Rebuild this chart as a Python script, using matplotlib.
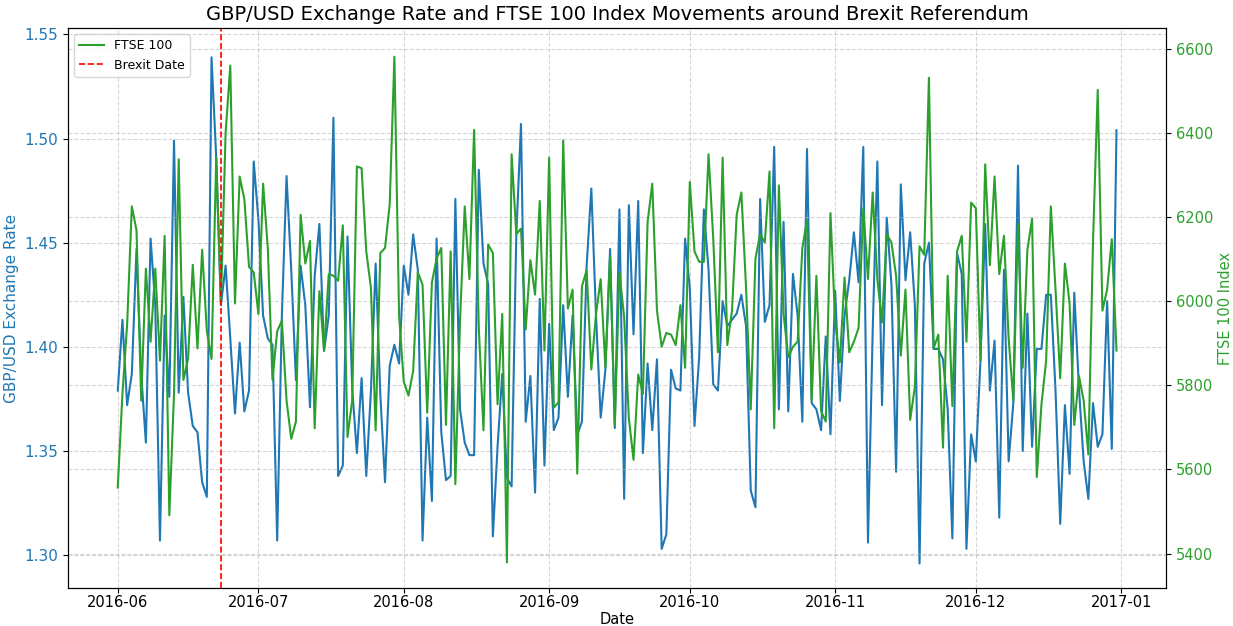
import matplotlib
matplotlib.use("Agg")
import matplotlib.pyplot as plt
import matplotlib.dates as mdates
import numpy as np
import pandas as pd

# daily dates, Jun 1 - Dec 31 2016
dates = pd.date_range("2016-06-01", "2016-12-31", freq="D")
brexit_date = pd.Timestamp("2016-06-23")

gbp_usd = [
    1.379, 1.413, 1.372, 1.387, 1.447, 1.387, 1.354, 1.452, 1.420, 1.307,
    1.415, 1.376, 1.499, 1.378, 1.424, 1.378, 1.362, 1.359, 1.335, 1.328,
    1.539, 1.491, 1.420, 1.439, 1.404, 1.368, 1.402, 1.369, 1.379, 1.489,
    1.461, 1.415, 1.404, 1.401, 1.307, 1.415, 1.482, 1.437,
    1.384, 1.439, 1.420, 1.371, 1.434, 1.459, 1.398, 1.415, 1.510, 1.338,
    1.343, 1.453, 1.380, 1.349, 1.385, 1.338, 1.379, 1.440, 1.377, 1.335,
    1.391, 1.401, 1.392, 1.439, 1.425, 1.454, 1.437, 1.307, 1.366, 1.326,
    1.452, 1.359, 1.336, 1.338, 1.471, 1.370, 1.354, 1.348, 1.348,
    1.485, 1.440, 1.430, 1.309, 1.352, 1.387, 1.337, 1.333, 1.454, 1.507,
    1.364, 1.386, 1.330, 1.423, 1.343, 1.411, 1.360, 1.366, 1.420,
    1.376, 1.415, 1.358, 1.364, 1.439, 1.476, 1.415, 1.366, 1.389, 1.447,
    1.361, 1.466, 1.327, 1.468, 1.406, 1.470, 1.349, 1.392, 1.360,
    1.394, 1.303, 1.310, 1.389, 1.380, 1.379, 1.452, 1.428, 1.362, 1.395,
    1.466, 1.437, 1.382, 1.379, 1.422, 1.410, 1.413, 1.416, 1.425,
    1.410, 1.331, 1.323, 1.471, 1.412, 1.420, 1.496, 1.370, 1.460, 1.369,
    1.435, 1.415, 1.364, 1.495, 1.373, 1.370, 1.360, 1.405, 1.358,
    1.427, 1.374, 1.415, 1.432, 1.455, 1.431, 1.496, 1.306, 1.407, 1.489,
    1.372, 1.462, 1.430, 1.340, 1.478, 1.432, 1.455, 1.420, 1.296,
    1.440, 1.450, 1.399, 1.399, 1.394, 1.370, 1.308, 1.445, 1.435, 1.303,
    1.358, 1.345, 1.394, 1.459, 1.379, 1.403, 1.318, 1.437, 1.345,
    1.373, 1.487, 1.350, 1.416, 1.352, 1.399, 1.399, 1.425, 1.425, 1.379,
    1.315, 1.372, 1.339, 1.426, 1.380, 1.345, 1.327, 1.373, 1.352, 1.358,
    1.422, 1.351, 1.504,
]

ftse_100 = [
    5557, 5780, 5945, 6226, 6169, 5764, 6078, 5904, 6078, 5859,
    6156, 5491, 5780, 6338, 5813, 5863, 6087, 5888, 6123,
    5929, 5863, 6342, 5995, 6400, 6561, 5995, 6297, 6243, 6082,
    6069, 5970, 6280, 6127, 5813, 5929, 5954, 5764, 5673, 5714,
    6206, 6090, 6144, 5698, 6024, 5883, 6065, 6061, 6049, 6181,
    5677, 5764, 6321, 6317, 6119, 6032, 5693, 6115, 6127,
    6231, 6582, 5966, 5809, 5776, 5834, 6069, 6040, 5735, 6045,
    6102, 6127, 5706, 6119, 5565, 5954, 6226, 6053, 6408,
    5937, 5693, 6135, 6115, 5755, 5970, 5379, 6350, 6160, 6173,
    5933, 6098, 6016, 6239, 5883, 6342, 5747, 5760, 6383,
    5983, 6028, 5590, 6036, 6074, 5838, 5970, 6053, 5842, 6107,
    5706, 6069, 5962, 5722, 5623, 5826, 5780, 6189, 6280,
    5978, 5892, 5925, 5921, 5896, 5991, 5842, 6284, 6119, 6094,
    6094, 6350, 6150, 5879, 6342, 5896, 5978, 6206, 6259,
    6032, 5743, 6102, 6160, 6140, 6309, 5698, 6276, 5970, 5867,
    5892, 5904, 6127, 6193, 5764, 6061, 5739, 5714, 6210,
    5954, 5855, 6057, 5879, 5904, 5937, 6222, 6053, 6259, 6053,
    5950, 6160, 6140, 6061, 5871, 6028, 5718, 5797, 6131,
    6111, 6532, 5888, 5921, 5652, 6061, 5751, 6119, 6156, 5904,
    6235, 6222, 5859, 6326, 6086, 6297, 6065, 6156, 5912,
    5764, 6185, 5842, 6123, 6197, 5582, 5755, 5859, 6226, 6028,
    5817, 6090, 5995, 5706, 5822, 5764, 5636, 6144, 6503, 5978,
    6028, 6148, 5883,
]

blue = "tab:blue"
green = "tab:green"

fig, ax1 = plt.subplots(figsize=(12.33, 6.26), dpi=100)

ax1.plot(dates, gbp_usd, color=blue, linewidth=1.5, label="GBP/USD")
ax1.set_xlabel("Date", fontsize=10.5, labelpad=1)
ax1.set_ylabel("GBP/USD Exchange Rate", color=blue, fontsize=11)
ax1.tick_params(axis="y", labelcolor=blue, labelsize=11)
ax1.tick_params(axis="x", labelsize=10.5, pad=1.5)
ax1.grid(True, linestyle="--", alpha=0.5)

ax2 = ax1.twinx()
ax2.plot(dates, ftse_100, color=green, linewidth=1.5, label="FTSE 100")
ax2.set_ylabel("FTSE 100 Index", color=green, fontsize=10.5, labelpad=3)
ax2.tick_params(axis="y", labelcolor=green, labelsize=10.5)
ax2.grid(True, linestyle="--", alpha=0.5)

# referendum day
ax2.axvline(brexit_date, color="red", linestyle="--", linewidth=1.2, label="Brexit Date")

ax1.xaxis.set_major_locator(mdates.MonthLocator())
ax1.xaxis.set_major_formatter(mdates.DateFormatter("%Y-%m"))

ax1.set_ylim(1.284, 1.553)
ax2.set_ylim(5317, 6650)

ax2.legend(loc="upper left", fontsize=9)
ax1.set_title("GBP/USD Exchange Rate and FTSE 100 Index Movements around Brexit Referendum",
              fontsize=14)

plt.subplots_adjust(left=0.055, right=0.946, top=0.955, bottom=0.06)
plt.savefig("out.png", dpi=100)
